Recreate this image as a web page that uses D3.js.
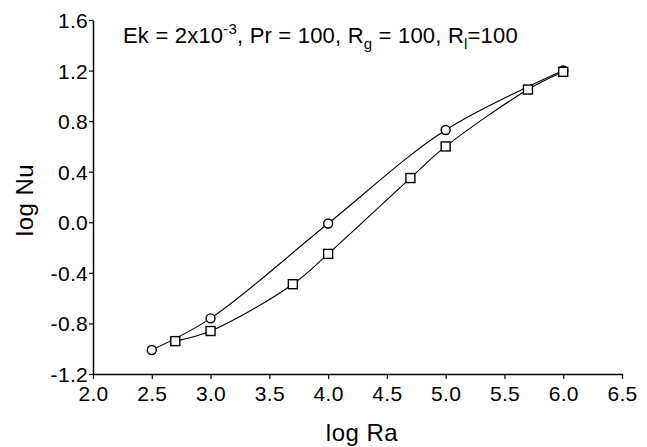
<!DOCTYPE html>
<html>
<head>
<meta charset="utf-8">
<script src="https://cdn.jsdelivr.net/npm/d3@7"></script>
<style>
  body { margin: 0; background: #fff; }
  svg { display: block; font-family: "Liberation Sans", Arial, sans-serif; }
</style>
</head>
<body>
<svg id="chart" width="647" height="447"></svg>
<script>
// Данные
const circleX = [2.5, 3.0, 4.0, 5.0, 6.0];
const circleY = [-1.01, -0.76, -0.01, 0.73, 1.2];
const squareX = [2.7, 3.0, 3.7, 4.0, 4.7, 5.0, 5.7, 6.0];
const squareY = [-0.94, -0.86, -0.49, -0.25, 0.35, 0.60, 1.05, 1.19];
const xTicks = [2.0, 2.5, 3.0, 3.5, 4.0, 4.5, 5.0, 5.5, 6.0, 6.5];
const yTicks = [-1.2, -0.8, -0.4, 0.0, 0.4, 0.8, 1.2, 1.6];

const svg = d3.select('#chart');
const margin = { left: 93, right: 25, top: 20, bottom: 73 };
const width = 647, height = 447;

const x = d3.scaleLinear().domain([2.0, 6.5]).range([margin.left, width - margin.right]);
const y = d3.scaleLinear().domain([-1.2, 1.6]).range([height - margin.bottom, margin.top]);

// Оси
const xAxis = svg.append('g')
    .attr('transform', `translate(0,${y(-1.2)})`)
    .call(d3.axisBottom(x).tickValues(xTicks).tickFormat(d3.format('.1f')).tickSize(5).tickSizeOuter(0).tickPadding(2));
const yAxis = svg.append('g')
    .attr('transform', `translate(${x(2.0)},0)`)
    .call(d3.axisLeft(y).tickValues(yTicks).tickFormat(d3.format('.1f')).tickSize(4).tickSizeOuter(0).tickPadding(1));

[xAxis, yAxis].forEach(a => {
    a.select('.domain').attr('stroke', '#000').attr('stroke-width', 1.5);
    a.selectAll('.tick line').attr('stroke', '#000').attr('stroke-width', 1.2);
    a.selectAll('.tick text')
        .attr('fill', '#000')
        .style('font-size', '21px')
        .style('letter-spacing', '0.3px')
        .style('font-family', '"Liberation Sans", Arial, sans-serif');
});
yAxis.selectAll('.tick text').text(d => d3.format('.1f')(d).replace('−', '-')).attr('dy', '0.36em');
xAxis.selectAll('.tick text').attr('y', 0).attr('dy', 0).attr('transform', 'translate(0,27)');

// Подписи осей
svg.append('text')
    .attr('x', 362)
    .attr('y', 441)
    .attr('text-anchor', 'middle')
    .style('font-size', '24px')
    .style('letter-spacing', '0.5px')
    .text('log Ra');

svg.append('text')
    .attr('transform', 'translate(33,200) rotate(-90)')
    .attr('text-anchor', 'middle')
    .style('font-size', '24px')
    .style('letter-spacing', '0.5px')
    .text('log Nu');

// Заголовок с параметрами
const title = svg.append('text')
    .attr('x', 123)
    .attr('y', 43)
    .style('font-size', '22px')
    .style('letter-spacing', '0.2px');
title.append('tspan').text('Ek = 2x10');
title.append('tspan').attr('dy', -9).style('font-size', '15px').text('-3');
title.append('tspan').attr('dy', 9).text(', Pr = 100, R');
title.append('tspan').attr('dy', 6).style('font-size', '15px').text('g');
title.append('tspan').attr('dy', -6).text(' = 100, R');
title.append('tspan').attr('dy', 6).style('font-size', '15px').text('l');
title.append('tspan').attr('dy', -6).text('=100');

// Линии
const line = d3.line()
    .x(d => x(d[0]))
    .y(d => y(d[1]))
    .curve(d3.curveCatmullRom.alpha(0.5));

const circles = circleX.map((v, i) => [v, circleY[i]]);
const squares = squareX.map((v, i) => [v, squareY[i]]);

svg.append('path').datum(circles)
    .attr('d', line).attr('fill', 'none').attr('stroke', '#000').attr('stroke-width', 1.1);
svg.append('path').datum(squares)
    .attr('d', line).attr('fill', 'none').attr('stroke', '#000').attr('stroke-width', 1.1);

// Маркеры
svg.append('g').selectAll('circle')
    .data(circles)
    .enter().append('circle')
    .attr('cx', d => x(d[0]))
    .attr('cy', d => y(d[1]))
    .attr('r', 4.5)
    .attr('fill', '#fff')
    .attr('stroke', '#000')
    .attr('stroke-width', 1.4);

svg.append('g').selectAll('rect')
    .data(squares)
    .enter().append('rect')
    .attr('x', d => x(d[0]) - 4.5)
    .attr('y', d => y(d[1]) - 4.5)
    .attr('width', 9)
    .attr('height', 9)
    .attr('fill', '#fff')
    .attr('stroke', '#000')
    .attr('stroke-width', 1.4);
</script>
</body>
</html>
